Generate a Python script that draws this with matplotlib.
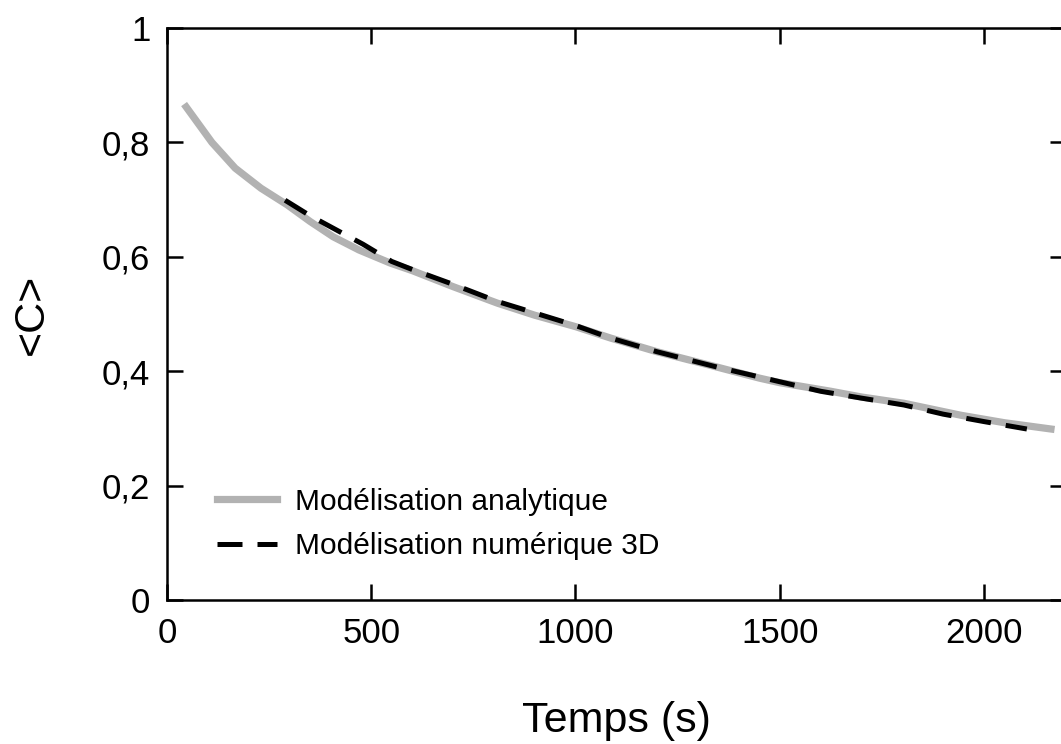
import matplotlib
matplotlib.use("Agg")
import matplotlib.pyplot as plt

plt.rcParams['font.family'] = ['Liberation Sans', 'DejaVu Sans']

# Analytical model
t_analytique = [47, 110, 167, 230, 294, 350, 407, 470, 547, 600, 700, 809, 900,
                1000, 1086, 1200, 1348, 1450, 1500, 1625, 1700, 1804, 1944, 2050, 2164]
c_analytique = [0.862, 0.800, 0.755, 0.720, 0.691, 0.662, 0.635, 0.612, 0.589, 0.576,
                0.548, 0.519, 0.498, 0.478, 0.458, 0.434, 0.407, 0.388, 0.380, 0.365,
                0.355, 0.344, 0.323, 0.310, 0.299]

# 3D numerical model
t_numerique = [289, 350, 420, 480, 550, 600, 700, 809, 1000, 1086, 1200, 1348,
               1450, 1600, 1700, 1804, 1900, 2000, 2105]
c_numerique = [0.699, 0.672, 0.645, 0.622, 0.592, 0.578, 0.552, 0.522, 0.480, 0.458,
               0.434, 0.407, 0.390, 0.365, 0.353, 0.341, 0.325, 0.312, 0.299]

x_ticks = [0, 500, 1000, 1500, 2000]
y_ticks = [0, 0.2, 0.4, 0.6, 0.8, 1.0]
y_tick_labels = ['0', '0,2', '0,4', '0,6', '0,8', '1']

fig = plt.figure(figsize=(10.61, 7.44), dpi=100)
ax = fig.add_axes([0.1574, 0.1935, 0.847, 0.7688])

ax.plot(t_analytique, c_analytique, color='#b2b2b2', linewidth=5.2,
        solid_joinstyle='miter', label='Modélisation analytique')
ax.plot(t_numerique, c_numerique, color='black', linewidth=3.6,
        dashes=(5, 3), label='Modélisation numérique 3D')

ax.set_xlim(0, 2200)
ax.set_ylim(0, 1)
ax.set_xticks(x_ticks)
ax.set_yticks(y_ticks)
ax.set_yticklabels(y_tick_labels)

for s in ax.spines.values():
    s.set_linewidth(1.8)
ax.tick_params(direction='in', length=11.5, width=1.8, labelsize=25,
               top=True, right=True)
ax.tick_params(axis='x', pad=12)
ax.tick_params(axis='y', pad=12)

ax.set_xlabel('Temps (s)', fontsize=31, labelpad=37)
ax.set_ylabel('<C>', fontsize=31, labelpad=36)

ax.legend(loc='upper left', bbox_to_anchor=(0.0558, 0.196), frameon=False,
          fontsize=21.5, handlelength=2.0, handletextpad=0.6, labelspacing=0.55,
          borderpad=0, borderaxespad=0)

fig.savefig('out.png', dpi=100)
